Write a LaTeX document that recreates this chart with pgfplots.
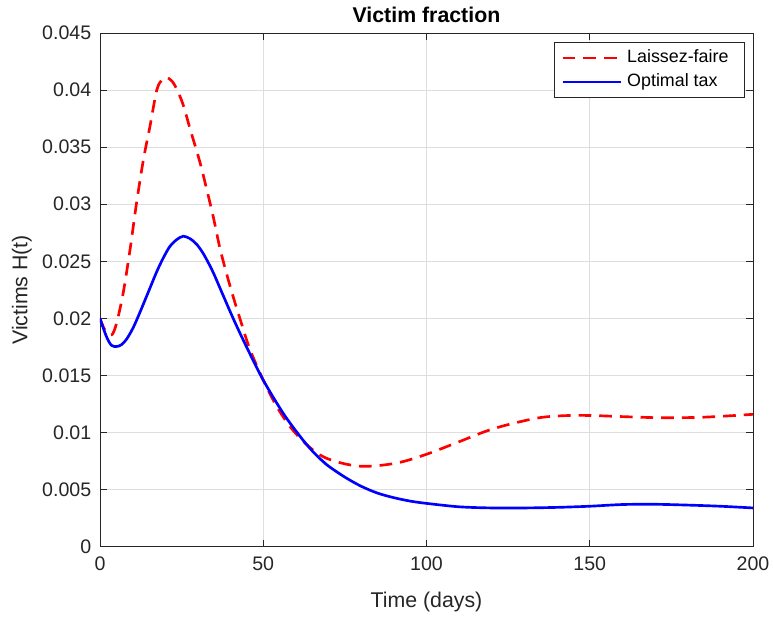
\documentclass[border=0pt]{standalone}
\usepackage{pgfplots}
\pgfplotsset{compat=1.18}
\usepackage{fontspec}
\setmainfont{Liberation Sans}
\definecolor{axgray}{rgb}{0.15,0.15,0.15}
\definecolor{gridgray}{rgb}{0.87,0.87,0.87}
\begin{document}
\begin{tikzpicture}
\useasboundingbox (-75pt,-52.5pt) rectangle (505pt,410.25pt);
\begin{axis}[
    scale only axis,
    width=490pt, height=385.5pt,
    xmin=0, xmax=200,
    ymin=0, ymax=0.045,
    xtick={0,50,...,200},
    ytick={0,0.005,...,0.045},
    scaled y ticks=false,
    yticklabel style={/pgf/number format/fixed, /pgf/number format/precision=3, xshift=-3pt},
    xticklabel style={yshift=-4pt},
    /pgf/number format/assume math mode=true,
    tick label style={font=\fontsize{14.7}{16}\selectfont, text=axgray},
    tick align=inside,
    major tick length=5pt,
    tick style={axgray, line width=0.6pt},
    axis line style={axgray, line width=0.6pt},
    grid=major,
    grid style={gridgray, line width=0.5pt},
    title={\textbf{Victim fraction}},
    title style={font=\fontsize{16}{18}\selectfont, yshift=-2pt},
    xlabel={Time (days)},
    ylabel={Victims H(t)},
    xlabel style={yshift=-9pt},
    ylabel style={yshift=1pt},
    label style={font=\fontsize{16}{18}\selectfont, text=axgray},
    legend style={at={(rel axis cs:0.988,0.982)}, anchor=north east,
        font=\fontsize{13.4}{15}\selectfont, draw=axgray, line width=0.6pt,
        nodes={inner xsep=0pt, inner ysep=0pt, text height=10pt, text depth=3.5pt},
        inner xsep=5.25pt, inner ysep=4.9pt, row sep=4.5pt, column sep=4pt},
    legend cell align=left,
    legend image code/.code={\draw[#1] (0pt,0pt) -- (43.5pt,0pt);},
]
\addplot[red, dash pattern=on 9.5pt off 6pt, line width=2pt, smooth] coordinates {
(0,0.0200) (1.5,0.0190) (3.6,0.01856) (5.1,0.0196) (7.1,0.0222) (9.2,0.0260)
(11.2,0.0301) (13.3,0.0339) (15.3,0.0368) (17.4,0.0400) (19,0.0409) (20.4,0.0411)
(22,0.0408) (23.5,0.0401) (25.5,0.0387) (27.6,0.0366) (30.6,0.0337)
(32.7,0.0313) (34.7,0.0289) (36.7,0.0262) (38.8,0.0239) (40.8,0.0219)
(43.4,0.0195) (45.9,0.0173) (50,0.0146) (54.1,0.0123) (58.2,0.01053)
(62,0.0093) (65.8,0.00835) (69,0.0078) (72.5,0.00745) (76,0.0072) (80,0.00705)
(85,0.0071) (92,0.0074) (100,0.0081) (110,0.0092) (118,0.0101) (125,0.0107)
(134.5,0.0113) (142,0.01148) (150,0.0115) (160,0.0114) (172,0.0113)
(185,0.01135) (200,0.0116)
};
\addlegendentry{Laissez-faire\rule{7pt}{0pt}}
\addplot[blue, line width=2pt, smooth] coordinates {
(0,0.0200) (2.0,0.0184) (3.5,0.01765) (5.1,0.01754) (6.6,0.0177) (8.2,0.0182)
(10.2,0.0192) (12.2,0.0205) (14.8,0.0223) (17.4,0.0241) (19.4,0.0253)
(21.4,0.0263) (23.5,0.0269) (25.5,0.0272) (27.5,0.0270) (29.6,0.0265)
(31.6,0.0257) (33.7,0.0246) (35.2,0.0237) (36.7,0.0227) (40.8,0.0200)
(44.9,0.0175) (50,0.0146) (56.1,0.0117) (61.2,0.0097) (65,0.0084) (69.4,0.0072)
(75,0.0061) (80,0.0053) (85,0.0047) (90,0.0043) (95,0.0040) (100,0.0038)
(110,0.0035) (120,0.0034) (130,0.0034) (140,0.00345) (150,0.00355) (160,0.0037)
(170,0.00372) (180,0.00365) (190,0.00355) (200,0.0034)
};
\addlegendentry{Optimal tax}
\end{axis}
\end{tikzpicture}
\end{document}
